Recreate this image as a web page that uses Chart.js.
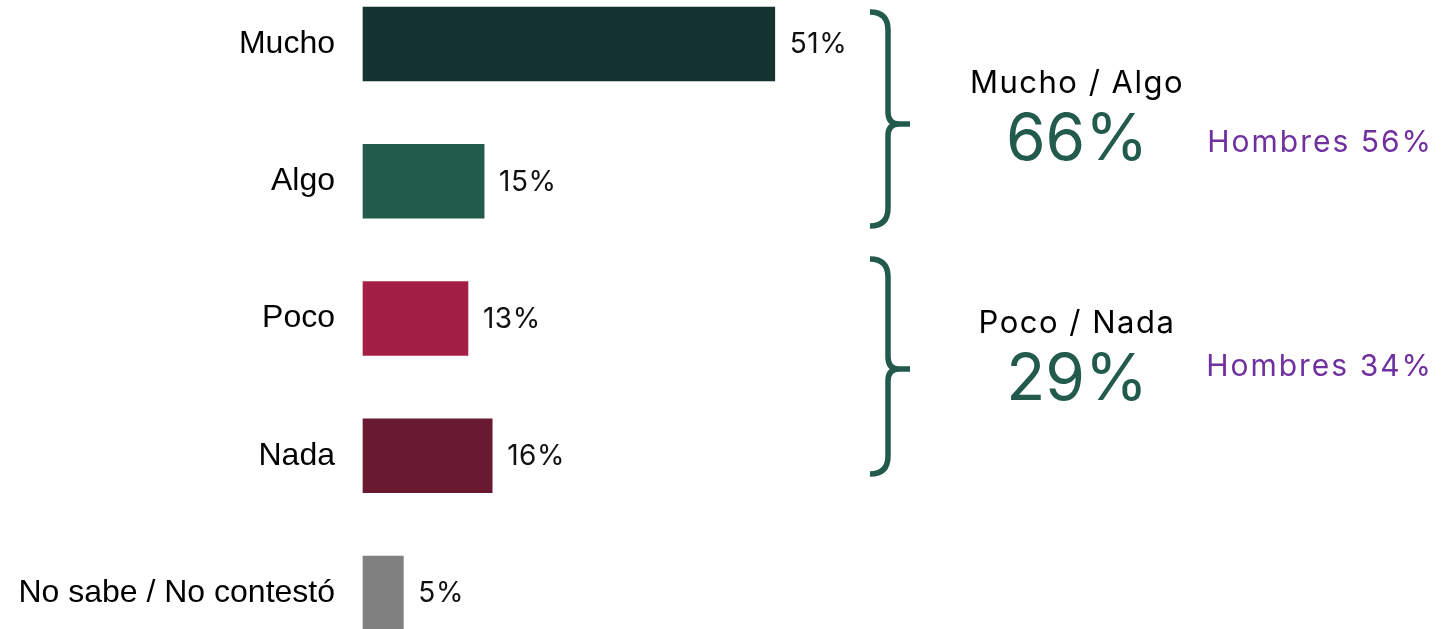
<!DOCTYPE html>
<html>
<head>
<meta charset="utf-8">
<script src="https://cdn.jsdelivr.net/npm/chart.js@4.4.1/dist/chart.umd.min.js"></script>
<style>
  html, body { margin: 0; padding: 0; background: #fff; }
  #wrap { width: 1445px; height: 629px; position: relative; }
</style>
</head>
<body>
<div id="wrap"><canvas id="chart"></canvas></div>
<script>
const categories = ['Mucho', 'Algo', 'Poco', 'Nada', 'No sabe / No contestó'];
const values = [51, 15, 13, 16, 5];
const barColors = ['#133230', '#225B4C', '#A31F45', '#6A1A30', '#808080'];

// grouped totals shown at the right
const groupTitles = ['Mucho / Algo', 'Poco / Nada'];
const groupTotals = [66, 29];
const menLabels = ['Hombres 56%', 'Hombres 34%'];

// where the braces and group texts sit (pixels)
const braceLayout = [
  { top: 12, tip: 124, bottom: 226, titleY: 84, totalY: 141, menY: 143 },
  { top: 259, tip: 369, bottom: 474, titleY: 324, totalY: 381, menY: 367 }
];

const GREEN = '#225B4C';
const PURPLE = '#7030A0';
const SANS = '"Liberation Sans", Arial, sans-serif';
const ROUND = 'Inter, "Open Sans", sans-serif';

const valueLabels = {
  id: 'valueLabels',
  afterDatasetsDraw(chart) {
    const ctx = chart.ctx;
    const meta = chart.getDatasetMeta(0);
    ctx.save();
    ctx.font = '400 28px ' + ROUND;
    ctx.letterSpacing = '0.5px';
    ctx.fillStyle = '#111';
    ctx.textAlign = 'left';
    ctx.textBaseline = 'middle';
    meta.data.forEach((bar, i) => {
      ctx.fillText(values[i] + '%', bar.x + 15, bar.y + 1);
    });
    ctx.restore();
  }
};

function drawBrace(ctx, x, top, tip, bottom) {
  // right-facing curly brace, x = left ends
  const r = 18, w = 22;
  ctx.beginPath();
  ctx.moveTo(x, top);
  ctx.quadraticCurveTo(x + r, top, x + r, top + r);
  ctx.lineTo(x + r, tip - 12);
  ctx.quadraticCurveTo(x + r, tip, x + r + w * 0.5, tip);
  ctx.lineTo(x + r + w, tip);
  ctx.moveTo(x + r + w * 0.5, tip);
  ctx.quadraticCurveTo(x + r, tip, x + r, tip + 12);
  ctx.lineTo(x + r, bottom - r);
  ctx.quadraticCurveTo(x + r, bottom, x, bottom);
  ctx.stroke();
}

const groups = {
  id: 'groups',
  afterDraw(chart) {
    const ctx = chart.ctx;
    ctx.save();
    ctx.strokeStyle = GREEN;
    ctx.lineWidth = 5.5;
    braceLayout.forEach((b, g) => {
      drawBrace(ctx, 870, b.top, b.tip, b.bottom);

      const cx = 1077;
      ctx.textAlign = 'center';
      ctx.textBaseline = 'middle';
      ctx.fillStyle = '#000';
      ctx.font = '400 31px ' + ROUND;
      ctx.letterSpacing = '1.5px';
      ctx.fillText(groupTitles[g], cx, b.titleY);
      ctx.fillStyle = GREEN;
      ctx.font = '400 64px ' + ROUND;
      ctx.letterSpacing = '0px';
      ctx.fillText(groupTotals[g] + '%', cx, b.totalY);
      ctx.fillStyle = PURPLE;
      ctx.font = '400 30px ' + ROUND;
      ctx.letterSpacing = '2px';
      ctx.textAlign = 'right';
      ctx.fillText(menLabels[g], 1433, b.menY);
    });
    ctx.restore();
  }
};

new Chart(document.getElementById('chart'), {
  type: 'bar',
  data: {
    labels: categories,
    datasets: [{
      data: values,
      backgroundColor: barColors,
      barThickness: 74,
      clip: false
    }]
  },
  options: {
    indexAxis: 'y',
    responsive: true,
    maintainAspectRatio: false,
    animation: false,
    layout: { padding: { top: 44, bottom: 36, left: 0, right: 0 } },
    plugins: { legend: { display: false }, tooltip: { enabled: false } },
    scales: {
      x: { display: false, min: 0, max: 134 },
      y: {
        offset: false,
        grid: { display: false, drawTicks: false },
        border: { display: false },
        ticks: {
          color: '#000',
          padding: 28,
          font: { family: SANS, size: 32 }
        },
        afterFit(scale) {
          scale.width = 363;
          scale.paddingTop = 0;
          scale.paddingBottom = 0;
        }
      }
    }
  },
  plugins: [valueLabels, groups]
});
</script>
</body>
</html>
